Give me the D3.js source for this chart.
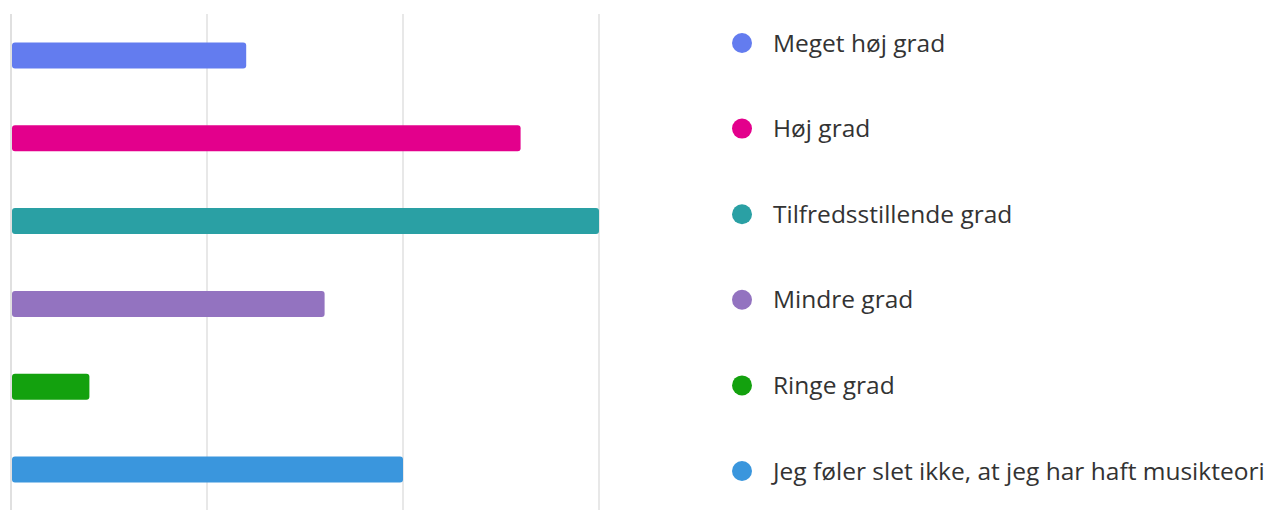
<!DOCTYPE html>
<html lang="da">
<head>
  <meta charset="UTF-8">
  <title>Musikteori</title>
  <script src="https://d3js.org/d3.v7.min.js"></script>
  <style>
    body { margin: 0; background: #fff; }
    .grid line { stroke: #e1e1e1; stroke-width: 1.5px; }
    .legend text { font-family: "Open Sans", "Noto Sans", sans-serif; font-size: 24.5px; fill: #333; }
  </style>
</head>
<body>
  <svg width="1269" height="510"></svg>
  <script>
    const width = 1269, height = 510;

    // answer categories and counts
    const categories = ["Meget høj grad", "Høj grad", "Tilfredsstillende grad", "Mindre grad", "Ringe grad", "Jeg føler slet ikke, at jeg har haft musikteori"];
    const counts = [6, 13, 15, 8, 2, 10];
    const colors = ["#637cef", "#e3008c", "#2aa0a4", "#9373c0", "#13a10e", "#3a96dd"];
    const gridTicks = [0, 5, 10, 15];

    const svg = d3.select("svg");

    const x = d3.scaleLinear().domain([0, 15]).range([11, 599]);
    const y = d3.scaleBand().domain(categories).range([14, 511]).paddingInner(0.686).paddingOuter(0.343);

    // vertical grid lines
    svg.append("g").attr("class", "grid")
      .selectAll("line")
      .data(gridTicks)
      .join("line")
      .attr("x1", d => x(d)).attr("x2", d => x(d))
      .attr("y1", 14).attr("y2", height)
      .style("stroke", d => d === 0 ? "#d6d6d6" : null);

    // bars
    svg.append("g")
      .selectAll("rect")
      .data(categories)
      .join("rect")
      .attr("x", x(0) + 1)
      .attr("y", d => y(d))
      .attr("width", (d, i) => x(counts[i]) - x(0) - 1)
      .attr("height", y.bandwidth())
      .attr("rx", 3)
      .attr("fill", (d, i) => colors[i]);

    // legend
    const ly = d3.scalePoint().domain(categories).range([43, 471]);
    const legend = svg.append("g").attr("class", "legend")
      .selectAll("g")
      .data(categories)
      .join("g")
      .attr("transform", d => `translate(742,${ly(d)})`);

    legend.append("circle").attr("r", 10).attr("fill", (d, i) => colors[i]);
    legend.append("text").attr("x", 31).attr("dy", "0.35em").text(d => d);
  </script>
</body>
</html>
